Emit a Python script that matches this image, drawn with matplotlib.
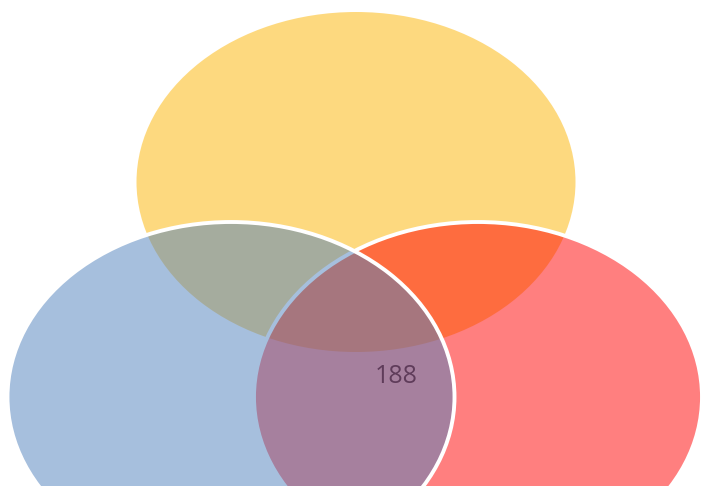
import matplotlib
matplotlib.use("Agg")
import matplotlib.pyplot as plt
from matplotlib.patches import Ellipse

# data
set_names = ["A", "B", "C"]          # top, left, right (no labels shown)
set_colors = ["#FDB400", "#FF0000", "#4F81BD"]
region_labels = ["188"]              # value shown in the B∩C region

# layout (pixel coordinates, y down)
W, H = 701, 486
yellow_geom = dict(xy=(356, 182), width=439, height=340)
red_geom = dict(xy=(478, 397), width=448, height=350)
blue_geom = dict(xy=(231, 397), width=447, height=350)
label_pos = [(396, 376)]


def rgba(hex_color, alpha):
    c = matplotlib.colors.to_rgb(hex_color)
    return (c[0], c[1], c[2], alpha)


fig = plt.figure(figsize=(W / 100, H / 100), dpi=100)
ax = fig.add_axes([0, 0, 1, 1])
ax.set_xlim(0, W)
ax.set_ylim(H, 0)
ax.set_aspect("equal")
ax.axis("off")

# draw order: top, right, left
ax.add_patch(Ellipse(**yellow_geom, facecolor=rgba(set_colors[0], 0.5), edgecolor="none"))
ax.add_patch(Ellipse(**red_geom, facecolor=rgba(set_colors[1], 0.5), edgecolor="white", linewidth=2.8))
ax.add_patch(Ellipse(**blue_geom, facecolor=rgba(set_colors[2], 0.5), edgecolor="white", linewidth=2.8))

for txt, (x, y) in zip(region_labels, label_pos):
    ax.text(x, y, txt, ha="center", va="center", fontsize=18,
            color="#5F3C5A", family=["Open Sans", "DejaVu Sans"])

fig.savefig("out.png", dpi=100)
plt.close(fig)
